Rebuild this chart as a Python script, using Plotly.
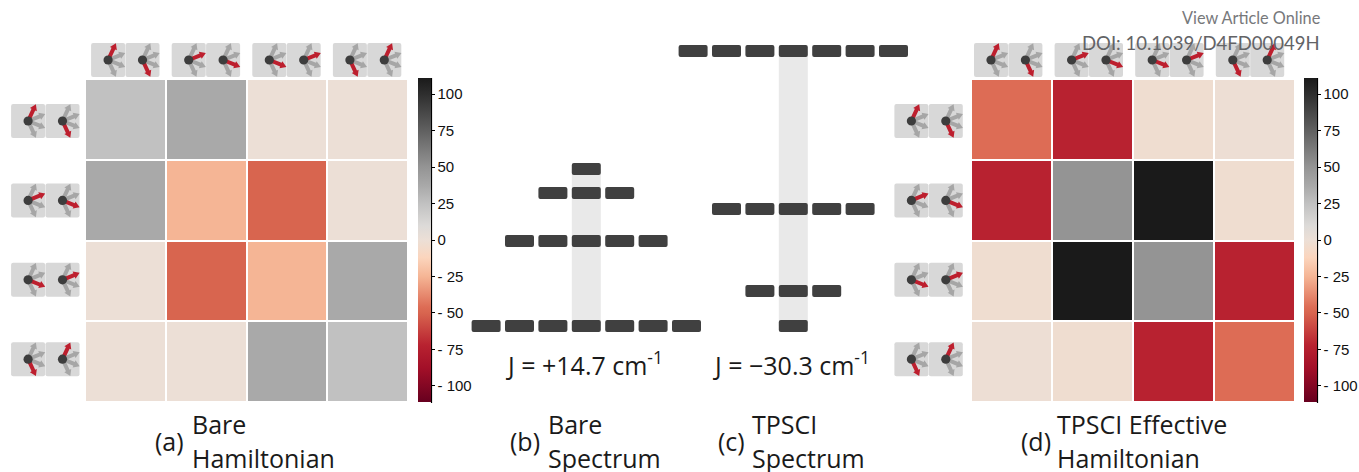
import math
import plotly.graph_objects as go

W, H = 1359, 472

# ---- data ----
bare_hamiltonian = [
    [25, 37, 0, 0],
    [37, -25, -50, 0],
    [0, -50, -25, 37],
    [0, 0, 37, 25],
]
effective_hamiltonian = [
    [-46, -72, -3, -1],
    [-72, 50, 111, -3],
    [-3, 111, 50, -72],
    [-1, -3, -72, -46],
]
colorbar_ticks = [100, 75, 50, 25, 0, -25, -50, -75, -100]
colorbar_ticktext = ["100", "75", "50", "25", "0", "- 25", "- 50", "- 75", "- 100"]
color_limit = 111

bare_levels_order = [7, 5, 3, 1]
bare_levels_energy = [0, 85, 133, 157]
tpsci_levels_order = [1, 3, 5, 7]
tpsci_levels_energy = [0, 35, 117, 275]

basis_angles = [(65, -65), (22, -22), (-22, 22), (-65, 65)]
gray_angles = [65, 22, -22, -65]

palette = [
    (-111, "#67001f"), (-88, "#a20f28"), (-72, "#b82230"), (-50, "#d8654f"),
    (-46, "#dd6c55"), (-25, "#f5b595"), (-12, "#fbd5bd"), (-3, "#efddd0"),
    (0, "#ecdfd6"), (10, "#dcdad8"), (25, "#c1c1c1"), (37, "#a9a9a9"),
    (50, "#949494"), (75, "#606060"), (100, "#2e2e2e"), (111, "#1a1a1a"),
]
colorscale = [[(v + color_limit) / (2 * color_limit), c] for v, c in palette]

# ---- layout helpers ----
def fx(px): return px / W
def fy(py): return 1 - py / H

fig = go.Figure()

def add_heatmap(z, x0, x1, axis_id, bar_x):
    fig.add_trace(go.Heatmap(
        z=z, xaxis=f"x{axis_id}", yaxis=f"y{axis_id}",
        x=[0, 1, 2, 3], y=[0, 1, 2, 3],
        zmin=-color_limit, zmax=color_limit, colorscale=colorscale,
        xgap=2, ygap=2, hoverinfo="skip",
        colorbar=dict(
            x=fx(bar_x), xanchor="left", xref="paper", y=fy(402), yanchor="bottom",
            yref="paper", len=324 / H, lenmode="fraction", thickness=13,
            thicknessmode="pixels", xpad=0, ypad=0, outlinewidth=0,
            tickmode="array", tickvals=colorbar_ticks, ticktext=colorbar_ticktext,
            ticks="outside", ticklen=4, tickwidth=1, tickcolor="#000",
            tickfont=dict(family="Liberation Sans", size=15, color="#111"),
        ),
    ))
    fig.update_layout({
        f"xaxis{axis_id}": dict(domain=[fx(x0), fx(x1)], range=[-0.5, 3.5],
                                visible=False, fixedrange=True),
        f"yaxis{axis_id}": dict(domain=[fy(402), fy(79)], range=[3.5, -0.5],
                                visible=False, fixedrange=True),
    })

add_heatmap(bare_hamiltonian, 85, 408, 1, 418)
add_heatmap(effective_hamiltonian, 971, 1295, 2, 1304)

def add_spectrum(order, energy, center, axis_id):
    spacing = 33.4
    x0, x1 = center - 125, center + 125
    fig.add_trace(go.Bar(
        x=[0], y=[max(energy)], base=[0], width=29 / spacing,
        marker=dict(color="#e9e9e9", line_width=0),
        xaxis=f"x{axis_id}", yaxis="y3", hoverinfo="skip", showlegend=False,
    ))
    for n, e in zip(order, energy):
        xs = [i - (n - 1) / 2 for i in range(n)]
        fig.add_trace(go.Bar(
            x=xs, y=[12] * n, base=[e - 6] * n, width=29 / spacing,
            marker=dict(color="#404040", cornerradius=2, line_width=0),
            xaxis=f"x{axis_id}", yaxis="y3", hoverinfo="skip", showlegend=False,
        ))
    fig.update_layout({
        f"xaxis{axis_id}": dict(domain=[fx(x0), fx(x1)],
                                range=[-125 / spacing, 125 / spacing],
                                visible=False, fixedrange=True),
    })

add_spectrum(bare_levels_order, bare_levels_energy, 586.3, 3)
add_spectrum(tpsci_levels_order, tpsci_levels_energy, 793.3, 4)
fig.update_layout(yaxis3=dict(domain=[fy(345), fy(30)], range=[-19, 296],
                              visible=False, fixedrange=True),
                  barmode="overlay")

# ---- spin icons ----
shapes = []

def rr(x0, y0, x1, y1, r):
    return (f"M{fx(x0+r)},{fy(y0)} L{fx(x1-r)},{fy(y0)} Q{fx(x1)},{fy(y0)} {fx(x1)},{fy(y0+r)} "
            f"L{fx(x1)},{fy(y1-r)} Q{fx(x1)},{fy(y1)} {fx(x1-r)},{fy(y1)} "
            f"L{fx(x0+r)},{fy(y1)} Q{fx(x0)},{fy(y1)} {fx(x0)},{fy(y1-r)} "
            f"L{fx(x0)},{fy(y0+r)} Q{fx(x0)},{fy(y0)} {fx(x0+r)},{fy(y0)} Z")

def arrow(cx, cy, deg, color):
    a = math.radians(deg)
    ux, uy = math.cos(a), -math.sin(a)
    nx, ny = -uy, ux
    L, hl, sw, hw = 18.5, 6.0, 2.0, 3.8
    pts = [(0, sw), (L - hl, sw), (L - hl, hw), (L, 0), (L - hl, -hw), (L - hl, -sw), (0, -sw)]
    p = [(cx + s * ux + t * nx, cy + s * uy + t * ny) for s, t in pts]
    path = "M" + " L".join(f"{fx(x)},{fy(y)}" for x, y in p) + " Z"
    shapes.append(dict(type="path", path=path, xref="paper", yref="paper",
                       fillcolor=color, line_width=0, layer="above"))

def icon(cx, cy, red):
    s = 17
    shapes.append(dict(type="path", path=rr(cx - s, cy - s, cx + s, cy + s, 2), xref="paper",
                       yref="paper", fillcolor="#d8d8d8", line_width=0, layer="above"))
    for g in gray_angles:
        if g != red:
            arrow(cx, cy, g, "#a6a6a6")
    arrow(cx, cy, red, "#bd1f2e")
    r = 4.6
    shapes.append(dict(type="circle", xref="paper", yref="paper",
                       x0=fx(cx - r), x1=fx(cx + r), y0=fy(cy + r), y1=fy(cy - r),
                       fillcolor="#3d3d3d", line_width=0, layer="above"))

def pair(cx, cy, angles):
    icon(cx - 17.2, cy, angles[0])
    icon(cx + 17.2, cy, angles[1])

for k, ang in enumerate(basis_angles):
    pair(125.3 + 80.6 * k, 60, ang)
    pair(1008.2 + 80.6 * k, 60, ang)
    pair(45.3, 121 + 79.4 * k, ang)
    pair(928.6, 121 + 79.4 * k, ang)

# colorbar axis lines
for bx in (431.5, 1317.5):
    shapes.append(dict(type="line", xref="paper", yref="paper", x0=fx(bx), x1=fx(bx),
                       y0=fy(78), y1=fy(403), line=dict(color="#000", width=1.2), layer="above"))

# ---- text ----
annotations = []

def text(s, x, y, size, anchor="left", color="#1a1a1a", family="Open Sans"):
    annotations.append(dict(text=s, x=fx(x), y=fy(y), xref="paper", yref="paper",
                            showarrow=False, xanchor=anchor, yanchor="middle", align=anchor,
                            font=dict(family=family, size=size, color=color)))

text("View Article Online", 1322, 17.5, 16.3, "right", "#77787b", "Lato")
text("DOI: 10.1039/D4FD00049H", 1322, 42.5, 18.5, "right", "#626366", "Lato")
text("J = +14.7 cm<sup>-1</sup>", 504, 363, 25)
text("J = −30.3 cm<sup>-1</sup>", 711, 363, 25)
labels = [
    ("(a)", 153, "Bare", "Hamiltonian", 190),
    ("(b)", 508, "Bare", "Spectrum", 546),
    ("(c)", 716, "TPSCI", "Spectrum", 750),
    ("(d)", 1019, "TPSCI Effective", "Hamiltonian", 1055),
]
for tag, tx, l1, l2, lx in labels:
    text(tag, tx, 441, 25)
    text(l1, lx, 424, 25)
    text(l2, lx, 458, 25)

fig.update_layout(
    width=W, height=H, margin=dict(l=0, r=0, t=0, b=0, pad=0, autoexpand=False),
    paper_bgcolor="#fff", plot_bgcolor="rgba(0,0,0,0)", showlegend=False,
    shapes=shapes, annotations=annotations,
)
fig.write_html("out.html", config={"displayModeBar": False},
               post_script="document.body.style.margin='0';document.documentElement.style.overflow='hidden';")
